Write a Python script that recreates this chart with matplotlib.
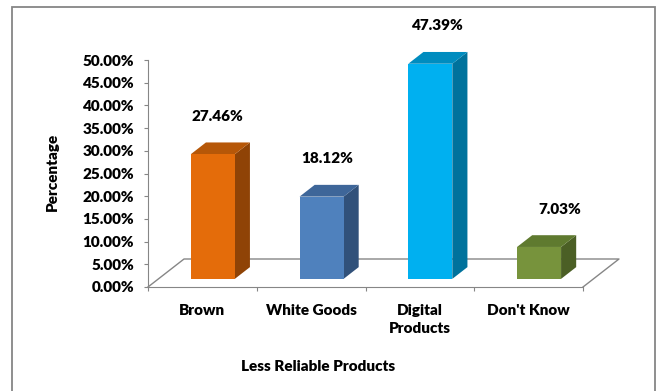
import numpy as np
import matplotlib
matplotlib.use("Agg")
from matplotlib import pyplot as plt
from matplotlib.patches import Polygon, Rectangle

categories = ["Brown", "White Goods", "Digital\nProducts", "Don't Know"]
values = [27.46, 18.12, 47.39, 7.03]
y_ticks = [0, 5, 10, 15, 20, 25, 30, 35, 40, 45, 50]

# front, side, top colours per bar
front_colors = ["#E46C0A", "#4F81BD", "#00B0F0", "#77933C"]
side_colors = ["#8F4306", "#31517A", "#00729C", "#4B5F25"]
top_colors = ["#B65708", "#3E6699", "#008CBF", "#5F7A2F"]
# horizontal nudge of each data label (px), as placed in the original
label_nudge = [5, 6, 8, 21]

plt.rcParams['font.family'] = ['Lato', 'DejaVu Sans']
FW = 'heavy'
FS = 11

W, H = 660, 391
fig = plt.figure(figsize=(W / 100, H / 100), dpi=100)
ax = fig.add_axes([0, 0, 1, 1])

# pixel geometry of the plot area
x0_px, x4_px = 148, 583
y0_px, y50_px = 287, 60
sx = (x4_px - x0_px) / len(categories)   # px per category
sy = (y0_px - y50_px) / 50.0              # px per percent
ax.set_xlim(-x0_px / sx, (W - x0_px) / sx)
ax.set_ylim(-(H - y0_px) / sy, y0_px / sy)

# floor depth (3D offset) in data units
DX = 36 / sx
DY = 28 / sy
f0, f1 = 0.29, 0.71
bw = 44 / sx
grey = "#868686"

n = len(categories)
# floor outline
ax.plot([0, DX, n + DX, n], [0, DY, DY, 0], color=grey, lw=1.0, zorder=1)

for i, v in enumerate(values):
    cx = i + 0.5 + f0 * DX
    xl, xr = cx - bw / 2, cx + bw / 2
    yb = f0 * DY
    yt = yb + v
    ddx = (f1 - f0) * DX
    ddy = (f1 - f0) * DY
    front = Polygon([(xl, yb), (xr, yb), (xr, yt), (xl, yt)], closed=True,
                    facecolor=front_colors[i], edgecolor='none', zorder=3)
    side = Polygon([(xr, yb), (xr + ddx, yb + ddy), (xr + ddx, yt + ddy), (xr, yt)],
                   closed=True, facecolor=side_colors[i], edgecolor='none', zorder=3)
    top = Polygon([(xl, yt), (xl + ddx, yt + ddy), (xr + ddx, yt + ddy), (xr, yt)],
                  closed=True, facecolor=top_colors[i], edgecolor='none', zorder=3)
    for p in (side, top, front):
        ax.add_patch(p)
    ax.text(cx + label_nudge[i] / sx, yt + ddy + 26 / sy, f"{v:.2f}%",
            ha='center', va='center', fontsize=FS, fontweight=FW, color='black')

# axes
for s in ('top', 'right'):
    ax.spines[s].set_visible(False)
ax.spines['left'].set_position(('data', 0))
ax.spines['bottom'].set_position(('data', 0))
ax.spines['left'].set_bounds(0, 50)
ax.spines['bottom'].set_bounds(0, n)
ax.spines['left'].set_color(grey)
ax.spines['bottom'].set_color(grey)

ax.set_yticks(y_ticks)
ax.set_yticklabels([f"{t:.2f}%" for t in y_ticks], fontweight=FW)
ax.tick_params(axis='y', direction='out', length=3, color=grey, pad=7,
               labelsize=FS)
ax.set_xticks(np.arange(n + 1))
ax.set_xticklabels([])
ax.tick_params(axis='x', which='major', direction='out', length=3, color=grey)
ax.set_xticks(np.arange(n) + 0.5, categories, minor=True)
ax.tick_params(axis='x', which='minor', length=0, pad=12, labelsize=FS)
for lbl in ax.get_xticklabels(minor=True):
    lbl.set_fontweight(FW)
    lbl.set_linespacing(1.45)

ax.text(n / 2 * 0.78, -17.5, "Less Reliable Products", ha='center', va='center',
        fontsize=FS, fontweight=FW)
ax.text(-96 / sx, 25.0 - (172 - 173.5) / sy, "Percentage", rotation=90,
        ha='center', va='center', fontsize=FS, fontweight=FW)

# chart border
fig.add_artist(Rectangle((12 / W, -0.05), (655 - 12) / W, 1.05 - 7 / H,
                         transform=fig.transFigure, fill=False,
                         edgecolor=grey, lw=1.3))

fig.savefig("out.png", dpi=100)
